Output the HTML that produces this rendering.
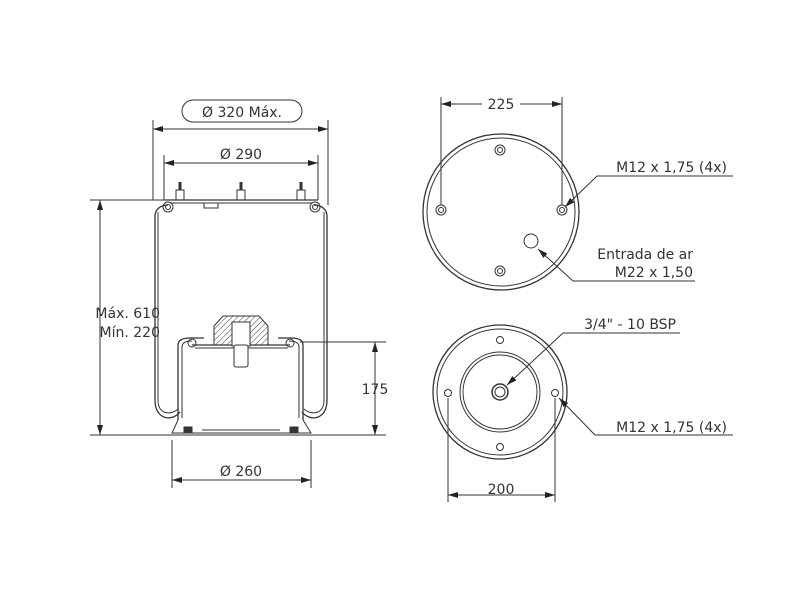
<!DOCTYPE html>
<html><head><meta charset="utf-8"><style>
body{margin:0;background:#fff;}
svg{display:block;}
text{font-family:"DejaVu Sans","Liberation Sans",sans-serif;font-size:14px;fill:#333;}
</style></head><body>
<svg width="800" height="600" viewBox="0 0 800 600" xmlns="http://www.w3.org/2000/svg">
<defs>
<marker id="a" viewBox="0 0 10 6" refX="10" refY="3" markerWidth="10" markerHeight="6" orient="auto-start-reverse" markerUnits="userSpaceOnUse"><path d="M0,0 L10,3 L0,6 z" fill="#222"/></marker>
<pattern id="h" width="4" height="4" patternUnits="userSpaceOnUse" patternTransform="rotate(45)"><line x1="0" y1="0" x2="0" y2="4" stroke="#444" stroke-width="1"/></pattern>
</defs>
<g stroke="#333" stroke-width="1" fill="none">
<rect x="182" y="100" width="120" height="22" rx="11"/>
<line x1="153" y1="120" x2="153" y2="200"/><line x1="328" y1="120" x2="328" y2="205"/>
<line x1="153" y1="129" x2="328" y2="129" marker-start="url(#a)" marker-end="url(#a)"/>
<line x1="164" y1="155" x2="164" y2="200"/><line x1="318" y1="155" x2="318" y2="200"/>
<line x1="164" y1="163" x2="318" y2="163" marker-start="url(#a)" marker-end="url(#a)"/>
<line x1="90" y1="200" x2="168" y2="200"/>
<line x1="100" y1="200" x2="100" y2="435" marker-start="url(#a)" marker-end="url(#a)"/>
<line x1="90" y1="435" x2="386" y2="435"/>
<line x1="300" y1="342" x2="386" y2="342"/>
<line x1="375" y1="342" x2="375" y2="435" marker-start="url(#a)" marker-end="url(#a)"/>
<line x1="172" y1="440" x2="172" y2="488"/><line x1="311" y1="440" x2="311" y2="488"/>
<line x1="172" y1="480" x2="311" y2="480" marker-start="url(#a)" marker-end="url(#a)"/>
<path d="M168,205 C160,205 155,210 155,216 L155,400 C155,420 172,422 180,412" stroke-width="1.3"/>
<path d="M158,212 L158,400 C158,414 170,416 178,409"/>
<path d="M314,205 C322,205 327,210 327,216 L327,400 C327,420 310,422 302,412" stroke-width="1.3"/>
<path d="M324,212 L324,400 C324,414 312,416 304,409"/>
<circle cx="168" cy="207" r="5"/><circle cx="168" cy="207" r="2.5"/>
<circle cx="315" cy="207" r="5"/><circle cx="315" cy="207" r="2.5"/>
<line x1="165" y1="200" x2="318" y2="200" stroke-width="1.3"/>
<line x1="170" y1="203" x2="312" y2="203"/>
<rect x="204" y="203" width="14" height="5"/>
<rect x="176" y="190" width="8" height="10"/><line x1="180" y1="182" x2="180" y2="190" stroke-width="3"/>
<rect x="237" y="190" width="8" height="10"/><line x1="241" y1="182" x2="241" y2="190" stroke-width="3"/>
<rect x="297" y="190" width="8" height="10"/><line x1="301" y1="182" x2="301" y2="190" stroke-width="3"/>
<path d="M178,420 L178,345 C178,339 184,338 190,338 L204,338" stroke-width="1.3"/>
<path d="M182,418 L182,347 C182,342 187,341 192,341"/>
<path d="M303,420 L303,345 C303,339 297,338 291,338 L278,338" stroke-width="1.3"/>
<path d="M299,418 L299,347 C299,342 294,341 289,341"/>
<circle cx="192" cy="343" r="4"/><circle cx="290" cy="343" r="4"/>
<line x1="192" y1="345" x2="290" y2="345" stroke-width="1.3"/>
<line x1="195" y1="348" x2="288" y2="348"/>
<path d="M214,345 L214,326 L223,316 L259,316 L268,326 L268,345 Z" fill="url(#h)"/>
<rect x="232" y="322" width="18" height="24" fill="#fff"/>
<rect x="234" y="345" width="14" height="22" rx="2" fill="#fff"/>
<path d="M178,420 L172,433 L311,433 L303,420"/>
<rect x="184" y="427" width="8" height="6" fill="#333"/><rect x="290" y="427" width="8" height="6" fill="#333"/>
<line x1="202" y1="430" x2="280" y2="430"/>
<circle cx="501" cy="212" r="78" stroke-width="1.3"/><circle cx="501" cy="212" r="74"/>
<circle cx="500" cy="150" r="5"/><circle cx="500" cy="150" r="2.5"/>
<circle cx="441" cy="210" r="5"/><circle cx="441" cy="210" r="2.5"/>
<circle cx="562" cy="210" r="5"/><circle cx="562" cy="210" r="2.5"/>
<circle cx="500" cy="271" r="5"/><circle cx="500" cy="271" r="2.5"/>
<circle cx="531" cy="241" r="7"/>
<line x1="441" y1="97" x2="441" y2="205"/><line x1="562" y1="97" x2="562" y2="205"/>
<line x1="441" y1="104" x2="482" y2="104" marker-start="url(#a)"/><line x1="520" y1="104" x2="562" y2="104" marker-end="url(#a)"/>
<path d="M733,176 L597,176 L565,207" marker-end="url(#a)"/>
<path d="M695,281 L573,281 L538,249" marker-end="url(#a)"/>
<circle cx="500" cy="392" r="67" stroke-width="1.3"/><circle cx="500" cy="392" r="63"/>
<circle cx="500" cy="392" r="40"/><circle cx="500" cy="392" r="37"/>
<circle cx="500" cy="392" r="8" stroke-width="1.5"/><circle cx="500" cy="392" r="5"/>
<circle cx="448" cy="393" r="3.5"/><circle cx="555" cy="393" r="3.5"/>
<circle cx="500" cy="340" r="3.5"/><circle cx="500" cy="447" r="3.5"/>
<path d="M680,333 L563,333 L507,385" marker-end="url(#a)"/>
<path d="M733,435 L595,435 L559,398" marker-end="url(#a)"/>
<line x1="448" y1="398" x2="448" y2="502"/><line x1="555" y1="398" x2="555" y2="502"/>
<line x1="448" y1="495" x2="555" y2="495" marker-start="url(#a)" marker-end="url(#a)"/>
</g>
<text x="242" y="117" text-anchor="middle">Ø 320 Máx.</text>
<text x="241" y="159" text-anchor="middle">Ø 290</text>
<text x="160" y="318" text-anchor="end">Máx. 610</text>
<text x="160" y="337" text-anchor="end">Mín. 220</text>
<text x="375" y="394" text-anchor="middle">175</text>
<text x="241" y="476" text-anchor="middle">Ø 260</text>
<text x="501" y="109" text-anchor="middle">225</text>
<text x="727" y="172" text-anchor="end">M12 x 1,75 (4x)</text>
<text x="693" y="259" text-anchor="end">Entrada de ar</text>
<text x="693" y="277" text-anchor="end">M22 x 1,50</text>
<text x="676" y="329" text-anchor="end">3/4" - 10 BSP</text>
<text x="727" y="432" text-anchor="end">M12 x 1,75 (4x)</text>
<text x="501" y="494" text-anchor="middle">200</text>
</svg>
</body></html>
